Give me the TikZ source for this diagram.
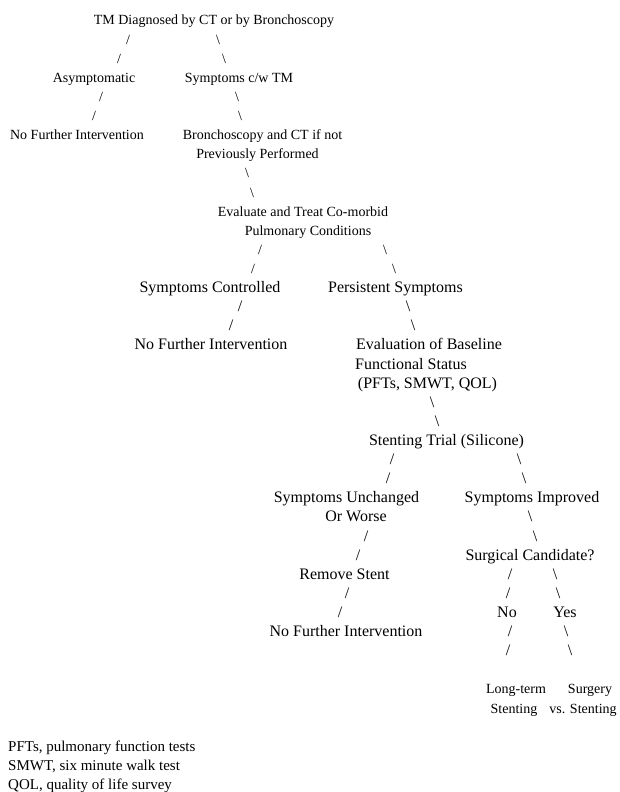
\documentclass[tikz,border=0pt]{standalone}
\usepackage{fontspec}
\setmainfont{Liberation Serif}
\begin{document}
\begin{tikzpicture}[x=1pt,y=-1pt,
  txt/.style={anchor=base,inner sep=0pt,font=\fontsize{14}{19.1}\selectfont},
  big/.style={anchor=base,inner sep=0pt,font=\fontsize{16}{19.1}\selectfont},
  lft/.style={anchor=base west,inner sep=0pt,font=\fontsize{15}{19.1}\selectfont}]
\useasboundingbox (0,0) rectangle (619,792);
% line i baseline: 20+19.11*i+5
\node[txt] (title) at (214,25) {TM Diagnosed by CT or by Bronchoscopy};
\node[txt] (s1a) at (128,44.1) {/};
\node[txt] (b1a) at (218,44.1) {\textbackslash};
\node[txt] (s1b) at (119,63.2) {/};
\node[txt] (b1b) at (224,63.2) {\textbackslash};
\node[txt] (asym) at (94,82.3) {Asymptomatic};
\node[txt] (symtm) at (239,82.3) {Symptoms c/w TM};
\node[txt] (s2a) at (101,101.4) {/};
\node[txt] (b2a) at (237,101.4) {\textbackslash};
\node[txt] (s2b) at (94,120.6) {/};
\node[txt] (b2b) at (240,120.6) {\textbackslash};
\node[txt] (nfi1) at (77,139.7) {No Further Intervention};
\node[txt] (bronch1) at (262.5,139.7) {Bronchoscopy and CT if not};
\node[txt] (bronch2) at (257.5,158.8) {Previously Performed};
\node[txt] (b3a) at (247,177.9) {\textbackslash};
\node[txt] (b3b) at (252,197.0) {\textbackslash};
\node[txt] (eval1) at (303,216.1) {Evaluate and Treat Co-morbid};
\node[txt] (eval2) at (308,235.2) {Pulmonary Conditions};
\node[txt] (s4a) at (260,254.3) {/};
\node[txt] (b4a) at (385,254.3) {\textbackslash};
\node[txt] (s4b) at (253,273.4) {/};
\node[txt] (b4b) at (394,273.4) {\textbackslash};
\node[big] (ctrl) at (210,292.5) {Symptoms Controlled};
\node[big] (pers) at (395.5,292.5) {Persistent Symptoms};
\node[big] (s5a) at (240,311.7) {/};
\node[big] (b5a) at (408,311.7) {\textbackslash};
\node[big] (s5b) at (231,330.8) {/};
\node[big] (b5b) at (413,330.8) {\textbackslash};
\node[big] (nfi2) at (211,349.9) {No Further Intervention};
\node[big] (base1) at (429,349.9) {Evaluation of Baseline};
\node[big] (base2) at (411,369.0) {Functional Status};
\node[big] (base3) at (427.5,388.1) {(PFTs, SMWT, QOL)};
\node[big] (b6a) at (432,407.2) {\textbackslash};
\node[big] (b6b) at (437,426.3) {\textbackslash};
\node[big] (stent) at (446.5,445.4) {Stenting Trial (Silicone)};
\node[big] (s7a) at (392,464.5) {/};
\node[big] (b7a) at (519,464.5) {\textbackslash};
\node[big] (s7b) at (388,483.6) {/};
\node[big] (b7b) at (524,483.6) {\textbackslash};
\node[big] (unch1) at (346.5,502.8) {Symptoms Unchanged};
\node[big] (impr) at (532,502.8) {Symptoms Improved};
\node[big] (unch2) at (356,521.9) {Or Worse};
\node[big] (b8a) at (530,521.9) {\textbackslash};
\node[big] (s8a) at (366,541.0) {/};
\node[big] (b8b) at (535,541.0) {\textbackslash};
\node[big] (s8b) at (358,560.1) {/};
\node[big] (cand) at (530,560.1) {Surgical Candidate?};
\node[big] (remove) at (344.5,579.2) {Remove Stent};
\node[big] (s9c) at (510,579.2) {/};
\node[big] (b9c) at (555,579.2) {\textbackslash};
\node[big] (s9a) at (347,598.3) {/};
\node[big] (s9d) at (508,598.3) {/};
\node[big] (b9d) at (558,598.3) {\textbackslash};
\node[big] (s9b) at (340,617.4) {/};
\node[big] (no) at (507,617.4) {No};
\node[big] (yes) at (565,617.4) {Yes};
\node[big] (nfi3) at (346,636.5) {No Further Intervention};
\node[big] (s10a) at (510,636.5) {/};
\node[big] (b10a) at (566,636.5) {\textbackslash};
\node[big] (s10b) at (508,655.6) {/};
\node[big] (b10b) at (570,655.6) {\textbackslash};
\node[txt] (lt1) at (516,693.9) {Long-term};
\node[txt] (surg1) at (590,693.9) {Surgery};
\node[txt] (lt2) at (514,713.0) {Stenting};
\node[txt] (surg2) at (583,713.0) {vs. Stenting};
\node[lft] (fn1) at (8,751.2) {PFTs, pulmonary function tests};
\node[lft] (fn2) at (8,770.3) {SMWT, six minute walk test};
\node[lft] (fn3) at (8,789.4) {QOL, quality of life survey};
\end{tikzpicture}
\end{document}
